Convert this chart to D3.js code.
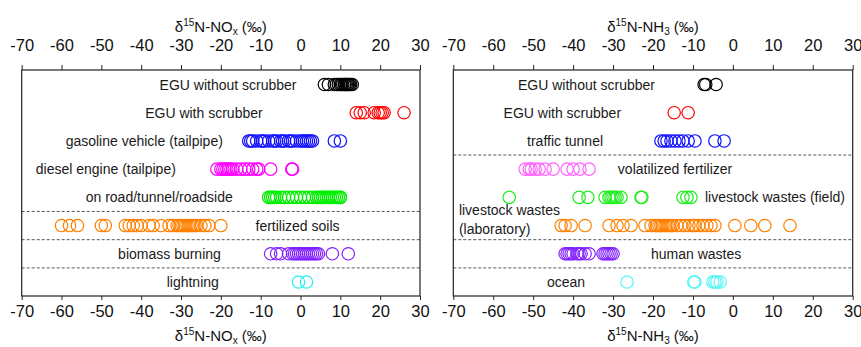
<!DOCTYPE html>
<html>
<head>
<meta charset="utf-8">
<script src="https://cdn.jsdelivr.net/npm/d3@7/dist/d3.min.js"></script>
<style>
  html, body { margin: 0; padding: 0; background: #fff; }
  svg { display: block; font-family: "Liberation Sans", Arial, sans-serif; }
</style>
</head>
<body>
<svg id="chart" width="861" height="347"></svg>
<script>
// Axis ticks shared by both panels (per mil)
const tickValues = [-70, -60, -50, -40, -30, -20, -10, 0, 10, 20, 30];

// δ15N-NOx source signatures (‰)
const noxCategories = ["EGU without scrubber", "EGU with scrubber", "gasoline vehicle (tailpipe)",
  "diesel engine (tailpipe)", "on road/tunnel/roadside", "fertilized soils", "biomass burning", "lightning"];
const noxEguNoScrubber = [6.0, 7.0, 8.5, 9.0, 9.5, 10.0, 10.3, 10.6, 11.0, 11.2, 11.5, 11.8, 12.0, 12.3, 12.6, 13.0];
const noxEguScrubber = [14.0, 15.0, 16.0, 18.5, 19.5, 20.0, 20.5, 21.0, 26.0];
const noxGasoline = [-13, -12.5, -12, -11, -10, -9.5, -9, -8, -7, -6.5, -6, -5, -4.5, -4, -3, -2.5, -2, -1, 0, 0.5, 1, 1.5, 2, 2.5, 3, 8.5, 10];
const noxDiesel = [-21, -20, -19.5, -19, -18.5, -18, -17.5, -17, -16, -15, -14, -13, -12, -11, -10.5, -7.5, -2, -2.2];
const noxOnRoad = [-8, -7.5, -7, -6.5, -6, -5, -4, -3, -2, -1, 0, 1, 2, 3, 4, 4.5, 5, 5.5, 6, 6.5, 7, 7.5, 8, 8.5, 9, 9.5, 10, 10];
const noxSoils = [-60, -58, -56, -50, -49, -44, -43, -42, -41, -40, -38, -37, -35, -33, -32, -31, -30.5, -30, -29.5, -29, -28.5, -28, -27.5, -27, -26.5, -26, -25, -24, -23, -20];
const noxBiomass = [-7.5, -6, -5, -3, -2, -1.5, -1, -0.5, 0, 0.5, 1, 1.5, 2, 2.5, 3, 3.5, 4, 4.5, 8, 12];
const noxLightning = [-0.5, 1.5];

// δ15N-NH3 source signatures (‰)
const nh3Categories = ["EGU without scrubber", "EGU with scrubber", "traffic tunnel", "volatilized fertilizer",
  "livestock wastes (field)", "livestock wastes (laboratory)", "human wastes", "ocean"];
const nh3EguNoScrubber = [-7.2, -6.8, -4.2];
const nh3EguScrubber = [-14.7, -11.2];
const nh3Traffic = [-18, -17.2, -16.5, -15.5, -14.5, -13.5, -12.5, -11.2, -9.5, -4.5, -2.2];
const nh3Fertilizer = [-52, -51, -50.5, -49.5, -48.5, -47, -45, -41.5, -40, -38.3, -36];
const nh3LivestockField = [-56, -38.5, -36.3, -32, -31, -30.5, -30, -29.5, -29, -28, -23, -22.8, -12.5, -11.5, -10.5];
const nh3LivestockLab = [-43, -42, -40.5, -37, -31, -29, -27.5, -25.5, -22, -20.5, -19.5, -19, -18.5, -18, -17.5, -17,
  -16.5, -16, -15.5, -15, -14, -13, -12, -11, -10, -9.5, -8.5, -7.5, -6.5, -5.5, -4.5, 0.5, 4.5, 8, 14.3];
const nh3Human = [-42, -41.5, -41, -40.5, -40, -39, -38.5, -38, -37, -36, -32.5, -32, -31.5, -31, -30.5, -30];
const nh3Ocean = [-26.5, -9.8, -9.5, -5, -4.5, -4, -3.2];

const svg = d3.select("#chart");
svg.append("rect").attr("width", 861).attr("height", 347).attr("fill", "#fff");

const plotTop = 70, plotBottom = 296;
const tickText = d => String(d);   // plain hyphen-minus labels

function drawPanel(cfg) {
  const x = d3.scaleLinear().domain([-70, 30]).range([cfg.x0, cfg.x1]);
  const y = d3.scalePoint().domain(cfg.categories).range([84.5, 282]);
  const g = svg.append("g");

  // dashed group separators
  cfg.separators.forEach(([a, b]) => {
    const yy = (y(cfg.categories[a]) + y(cfg.categories[b])) / 2;
    g.append("line").attr("x1", cfg.x0).attr("x2", cfg.x1).attr("y1", yy).attr("y2", yy)
      .attr("stroke", "#444").attr("stroke-width", 0.9).attr("stroke-dasharray", "3,2");
  });

  // axes
  const axTop = g.append("g").attr("transform", `translate(0,${plotTop})`)
    .call(d3.axisTop(x).tickValues(tickValues).tickSize(5).tickPadding(14).tickFormat(tickText));
  const axBot = g.append("g").attr("transform", `translate(0,${plotBottom})`)
    .call(d3.axisBottom(x).tickValues(tickValues).tickSize(4).tickPadding(5).tickFormat(tickText));
  [axTop, axBot].forEach(a => {
    a.select(".domain").remove();
    a.selectAll(".tick line").attr("stroke", "#222");
    a.selectAll(".tick text").attr("font-size", 16.5).attr("fill", "#111")
      .attr("font-family", "Liberation Sans, Arial, sans-serif");
  });

  // frame
  g.append("rect").attr("x", cfg.x0).attr("y", plotTop).attr("width", cfg.x1 - cfg.x0).attr("height", plotBottom - plotTop)
    .attr("fill", "none").attr("stroke", "#222").attr("stroke-width", 1.2);

  // series markers
  cfg.series.forEach(s => {
    g.append("g").selectAll("circle").data(s.values).join("circle")
      .attr("cx", d => x(d)).attr("cy", y(s.category)).attr("r", 6.2)
      .attr("fill", "none").attr("stroke", s.color).attr("stroke-width", 1.2);
  });

  // row labels
  cfg.labels.forEach(l => {
    const t = g.append("text").attr("x", x(l.at)).attr("text-anchor", l.anchor)
      .attr("font-size", 14).attr("fill", "#1a1a1a");
    if (l.lines) {
      l.lines.forEach((line, i) => t.append("tspan").attr("x", x(l.at)).attr("y", l.y[i]).text(line));
    } else {
      t.attr("y", y(l.category) + 5).text(l.category);
    }
  });

  // axis titles
  const cx = (cfg.x0 + cfg.x1) / 2;
  [32, 341].forEach(by => {
    const t = g.append("text").attr("x", cx).attr("y", by).attr("text-anchor", "middle")
      .attr("font-size", 15).attr("fill", "#111");
    t.append("tspan").text("δ");
    t.append("tspan").attr("font-size", 10).attr("dy", -6).text("15");
    t.append("tspan").attr("dy", 6).text(cfg.species);
    t.append("tspan").attr("font-size", 10).attr("dy", 3).text(cfg.sub);
    t.append("tspan").attr("dy", -3).text(" (‰)");
  });
}

drawPanel({
  x0: 21.7, x1: 420, species: "N-NO", sub: "x",
  categories: noxCategories,
  separators: [[4, 5], [5, 6], [6, 7]],
  series: [
    { category: noxCategories[0], values: noxEguNoScrubber, color: "#000000" },
    { category: noxCategories[1], values: noxEguScrubber, color: "#ff0000" },
    { category: noxCategories[2], values: noxGasoline, color: "#1010ff" },
    { category: noxCategories[3], values: noxDiesel, color: "#ff00ff" },
    { category: noxCategories[4], values: noxOnRoad, color: "#00ee00" },
    { category: noxCategories[5], values: noxSoils, color: "#ff8000" },
    { category: noxCategories[6], values: noxBiomass, color: "#8020ff" },
    { category: noxCategories[7], values: noxLightning, color: "#20f0f0" }
  ],
  labels: [
    { category: noxCategories[0], at: -1, anchor: "end" },
    { category: noxCategories[1], at: -9.5, anchor: "end" },
    { category: noxCategories[2], at: -19.5, anchor: "end" },
    { category: noxCategories[3], at: -31.3, anchor: "end" },
    { category: noxCategories[4], at: -17, anchor: "end" },
    { category: noxCategories[5], at: -11.3, anchor: "start" },
    { category: noxCategories[6], at: -20, anchor: "end" },
    { category: noxCategories[7], at: -20.5, anchor: "end" }
  ]
});

drawPanel({
  x0: 453.3, x1: 852.7, species: "N-NH", sub: "3",
  categories: nh3Categories,
  separators: [[2, 3], [5, 6], [6, 7]],
  series: [
    { category: nh3Categories[0], values: nh3EguNoScrubber, color: "#000000" },
    { category: nh3Categories[1], values: nh3EguScrubber, color: "#ff0000" },
    { category: nh3Categories[2], values: nh3Traffic, color: "#1010ff" },
    { category: nh3Categories[3], values: nh3Fertilizer, color: "#ff66ff" },
    { category: nh3Categories[4], values: nh3LivestockField, color: "#22ee22" },
    { category: nh3Categories[5], values: nh3LivestockLab, color: "#ff8000" },
    { category: nh3Categories[6], values: nh3Human, color: "#8020ff" },
    { category: nh3Categories[7], values: nh3Ocean, color: "#55f5f5" }
  ],
  labels: [
    { category: nh3Categories[0], at: -19.5, anchor: "end" },
    { category: nh3Categories[1], at: -28, anchor: "end" },
    { category: nh3Categories[2], at: -32.5, anchor: "end" },
    { category: nh3Categories[3], at: -28.8, anchor: "start" },
    { category: nh3Categories[4], at: -7, anchor: "start" },
    { at: -68.6, anchor: "start", lines: ["livestock wastes", "(laboratory)"], y: [215, 234] },
    { category: nh3Categories[6], at: -20.5, anchor: "start" },
    { category: nh3Categories[7], at: -37, anchor: "end" }
  ]
});
</script>
</body>
</html>
